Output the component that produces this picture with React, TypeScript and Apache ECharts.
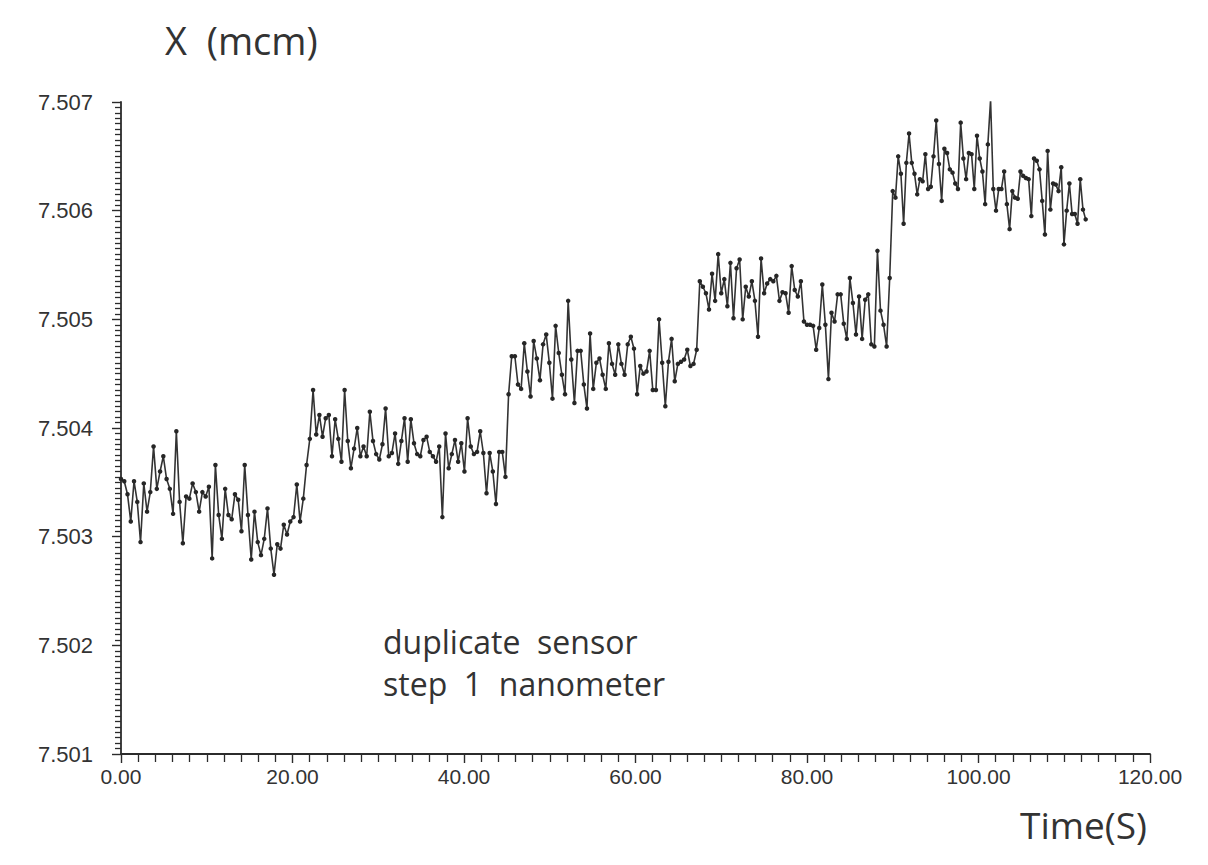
import React, { useEffect, useRef } from "react";
import * as echarts from "echarts";

// Plateau readings (X position, mcm)
const SEG1 = [
  7.50353, 7.50351, 7.50339, 7.50314, 7.50351, 7.50332, 7.50295, 7.50349, 7.50323, 7.50341,
  7.50383, 7.50344, 7.5036, 7.50374, 7.50353, 7.50344, 7.50321, 7.50397, 7.50332, 7.50294,
  7.50337, 7.50335, 7.50349, 7.50341, 7.50323, 7.50341, 7.50337, 7.50346, 7.5028, 7.50366,
  7.5032, 7.50298, 7.50344, 7.5032, 7.50316, 7.50339, 7.50334, 7.50305, 7.50366, 7.5032,
  7.50279, 7.50323, 7.50295, 7.50283, 7.50298, 7.50326, 7.50289, 7.50265, 7.50293, 7.50289,
  7.50311, 7.50302, 7.50314, 7.50318, 7.50348, 7.50314, 7.50335, 7.50366, 7.5039,
];
const SEG2 = [
  7.50435, 7.50394, 7.50412, 7.50392, 7.50409, 7.50412, 7.50374, 7.50408, 7.5039, 7.50369,
  7.50435, 7.50388, 7.50363, 7.50381, 7.504, 7.50374, 7.50383, 7.50374, 7.50415, 7.50388,
  7.50376, 7.50371, 7.50385, 7.50418, 7.50374, 7.50377, 7.50395, 7.50367, 7.50388, 7.50409,
  7.50369, 7.50408, 7.50386, 7.50376, 7.50374, 7.50389, 7.50392, 7.50378, 7.50374, 7.50369,
  7.50383, 7.50318, 7.50395, 7.50363, 7.50376, 7.50389, 7.50369, 7.50386, 7.5036, 7.50409,
  7.50383, 7.50376, 7.50378, 7.50397, 7.50377, 7.5034, 7.50377, 7.5036, 7.5033, 7.50378,
  7.50378, 7.50355,
];
const SEG3 = [
  7.50431, 7.50466, 7.50466, 7.5044, 7.50436, 7.50478, 7.50452, 7.50429, 7.5048, 7.50464,
  7.50444, 7.50477, 7.50486, 7.5046, 7.50427, 7.50494, 7.50469, 7.50449, 7.50431, 7.50517,
  7.50463, 7.50423, 7.50471, 7.50471, 7.5044, 7.50418, 7.50487, 7.50436, 7.5046, 7.50464,
  7.50449, 7.50436, 7.50478, 7.50459, 7.50449, 7.50477, 7.50459, 7.50449, 7.50477, 7.50484,
  7.50473, 7.50431, 7.50457, 7.5045, 7.50452, 7.50471, 7.50435, 7.50435, 7.505, 7.5046,
  7.5042, 7.50461, 7.50482, 7.50443, 7.50459, 7.50461, 7.50463, 7.50472, 7.50457, 7.50459,
  7.50472,
];
const SEG4 = [
  7.50535, 7.5053, 7.50524, 7.50509, 7.50542, 7.50517, 7.5056, 7.50524, 7.50537, 7.50512,
  7.50552, 7.50501, 7.50547, 7.50555, 7.505, 7.5053, 7.50521, 7.50535, 7.50517, 7.50484,
  7.50556, 7.50524, 7.50533, 7.50537, 7.50535, 7.5054, 7.50517, 7.50525, 7.50524, 7.50506,
  7.50549, 7.50527, 7.50521, 7.50535, 7.50498, 7.50495, 7.50495, 7.50494, 7.50472, 7.50492,
  7.50532, 7.50495, 7.50445, 7.50506, 7.50498, 7.50523, 7.50523, 7.50496, 7.50482, 7.50538,
  7.50515, 7.50486, 7.50521, 7.50482, 7.50518, 7.50523, 7.50477, 7.50475, 7.50563, 7.50508,
  7.50495, 7.50475, 7.50538,
];
const SEG5 = [
  7.50618, 7.50612, 7.5065, 7.50634, 7.50588, 7.50644, 7.50671, 7.50644, 7.50634, 7.50615,
  7.50629, 7.50627, 7.50652, 7.5062, 7.50622, 7.5065, 7.50683, 7.50643, 7.50609, 7.50657,
  7.50653, 7.50638, 7.50635, 7.50625, 7.5062, 7.50681, 7.50648, 7.50629, 7.50653, 7.50652,
  7.5062, 7.50669, 7.50648, 7.50636, 7.50606, 7.50661, 7.50702, 7.5062, 7.506, 7.5062,
  7.5062, 7.50636, 7.50606, 7.50583, 7.50618, 7.50612, 7.50611, 7.50636, 7.50632, 7.5063,
  7.50629, 7.50595, 7.50648, 7.50646, 7.50638, 7.50609, 7.50578, 7.50655, 7.50601, 7.50625,
  7.50624, 7.50618, 7.5064, 7.50569, 7.506, 7.50625, 7.50597, 7.50597, 7.50588, 7.50629,
  7.50601, 7.50592,
];
// time (s) at which each plateau's samples start; last sample time
const SEGMENT_START = [0, 22.4, 45.2, 67.5, 90.0];
const LAST_TIME = 112.5;

const X_TICKS = [0, 20, 40, 60, 80, 100, 120];
const Y_TICKS = [7.501, 7.502, 7.503, 7.504, 7.505, 7.506, 7.507];

const Y_TITLE = "X  (mcm)";
const X_TITLE = "Time(S)";
const NOTE_1 = "duplicate  sensor";
const NOTE_2 = "step  1  nanometer";

function buildData(): [number, number][] {
  const segs = [SEG1, SEG2, SEG3, SEG4, SEG5];
  const out: [number, number][] = [];
  segs.forEach((seg, k) => {
    const start = SEGMENT_START[k];
    const last = k === segs.length - 1;
    const end = last ? LAST_TIME : SEGMENT_START[k + 1];
    const step = last ? (end - start) / (seg.length - 1) : (end - start) / seg.length;
    seg.forEach((v, i) => out.push([start + i * step, v]));
  });
  return out;
}

export default function App() {
  const ref = useRef<HTMLDivElement>(null);
  useEffect(() => {
    if (!ref.current) return;
    const chart = echarts.init(ref.current, null, { renderer: "svg" });
    const ink = "#2b2b2b";
    const labelFont = "'Liberation Sans', Arial, sans-serif";
    const textFont = "'Open Sans', 'DejaVu Sans', sans-serif";
    chart.setOption({
      animation: false,
      backgroundColor: "#ffffff",
      grid: { left: 121, right: 58, top: 102, bottom: 111 },
      xAxis: {
        type: "value",
        min: X_TICKS[0],
        max: X_TICKS[X_TICKS.length - 1],
        interval: 20,
        axisLine: { show: true, onZero: false, lineStyle: { color: ink, width: 1.8 } },
        axisTick: { show: true, inside: false, length: 9, lineStyle: { color: ink, width: 1.4 } },
        minorTick: { show: true, splitNumber: 10, length: 8, lineStyle: { color: ink, width: 1.3 } },
        splitLine: { show: false },
        axisLabel: {
          formatter: (v: number) => v.toFixed(2),
          color: "#333",
          fontSize: 21,
          fontFamily: labelFont,
          margin: 12,
        },
      },
      yAxis: {
        type: "value",
        min: Y_TICKS[0],
        max: Y_TICKS[Y_TICKS.length - 1],
        interval: 0.001,
        axisLine: { show: true, lineStyle: { color: ink, width: 1.8 } },
        axisTick: { show: true, inside: false, length: 9, lineStyle: { color: ink, width: 1.4 } },
        minorTick: { show: true, splitNumber: 20, length: 6, lineStyle: { color: ink, width: 1.3 } },
        splitLine: { show: false },
        axisLabel: {
          formatter: (v: number) => v.toFixed(3),
          color: "#333",
          fontSize: 22,
          fontFamily: labelFont,
          margin: 28,
        },
      },
      graphic: [
        {
          type: "text",
          left: 165,
          top: 21,
          style: { text: Y_TITLE, fontSize: 38, fontFamily: textFont, fill: "#333" },
        },
        {
          type: "text",
          left: 1020,
          top: 806,
          style: { text: X_TITLE, fontSize: 37, fontFamily: textFont, fill: "#333" },
        },
        {
          type: "text",
          left: 383,
          top: 625,
          style: { text: NOTE_1, fontSize: 32, fontFamily: textFont, fill: "#333" },
        },
        {
          type: "text",
          left: 383,
          top: 667,
          style: { text: NOTE_2, fontSize: 32, fontFamily: textFont, fill: "#333" },
        },
      ],
      series: [
        {
          type: "line",
          data: buildData(),
          symbol: "circle",
          symbolSize: 4.5,
          showAllSymbol: true,
          lineStyle: { color: "#333333", width: 1.6 },
          itemStyle: { color: "#262626" },
        },
      ],
    });
    return () => chart.dispose();
  }, []);
  return (
    <div
      ref={ref}
      style={{ position: "fixed", left: 0, top: 0, width: 1208, height: 865, background: "#fff" }}
    />
  );
}
